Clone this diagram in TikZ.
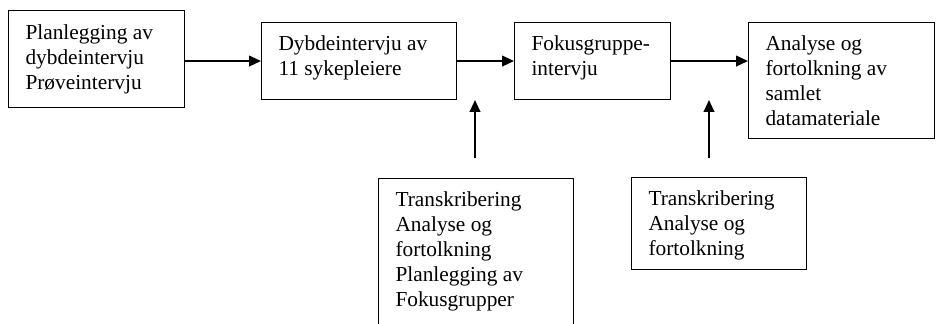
\documentclass[tikz,border=0pt]{standalone}
\usepackage{fontspec}
\setmainfont{Liberation Serif}
\usetikzlibrary{arrows.meta}
\begin{document}
\begin{tikzpicture}[x=0.75pt,y=-0.75pt,
  box/.style={draw, line width=0.8pt, align=flush left, anchor=north west,
    inner xsep=12.75pt, inner ysep=0pt,
    font=\fontsize{16}{18.75}\selectfont},
  flow/.style={line width=1.5pt, -{Triangle[length=9pt,width=8pt]}}]
\useasboundingbox (0,0) rectangle (936,324);
\node[box, text width=106.5pt, text height=21.75pt, text depth=51pt] (b1) at (8,10)
  {\mbox{Planlegging av}\\\mbox{dybdeintervju}\\\mbox{Prøveintervju}};
\node[box, text width=120.75pt, text height=21pt, text depth=36.75pt] (b2) at (261,22)
  {\mbox{Dybdeintervju av}\\\mbox{11 sykepleiere}};
\node[box, text width=91.5pt, text height=21pt, text depth=36.75pt] (b3) at (514,22)
  {\mbox{Fokusgruppe-}\\\mbox{intervju}};
\node[box, text width=114pt, text height=21pt, text depth=66pt] (b4) at (748,22)
  {\mbox{Analyse og}\\\mbox{fortolkning av}\\\mbox{samlet}\\\mbox{datamateriale}};
\begin{scope}
\clip (0,0) rectangle (936,324);
\node[box, text width=120.75pt, text height=21pt, text depth=91.5pt] (b5) at (378,178)
  {\mbox{Transkribering}\\\mbox{Analyse og}\\\mbox{fortolkning}\\\mbox{Planlegging av}\\\mbox{Fokusgrupper}};
\end{scope}
\node[box, text width=105.75pt, text height=21pt, text depth=48pt] (b6) at (631,177)
  {\mbox{Transkribering}\\\mbox{Analyse og}\\\mbox{fortolkning}};
\coordinate (v1s) at (475,158);
\coordinate (v1e) at (475,100);
\coordinate (v2s) at (709,158);
\coordinate (v2e) at (709,100);
\draw[flow] (b1.east |- b2.west) -- (b2.west);
\draw[flow] (b2.east) -- (b3.west);
\draw[flow] (b3.east) -- (b3.east -| b4.west);
\draw[flow] (v1s) -- (v1e);
\draw[flow] (v2s) -- (v2e);
\end{tikzpicture}
\end{document}
